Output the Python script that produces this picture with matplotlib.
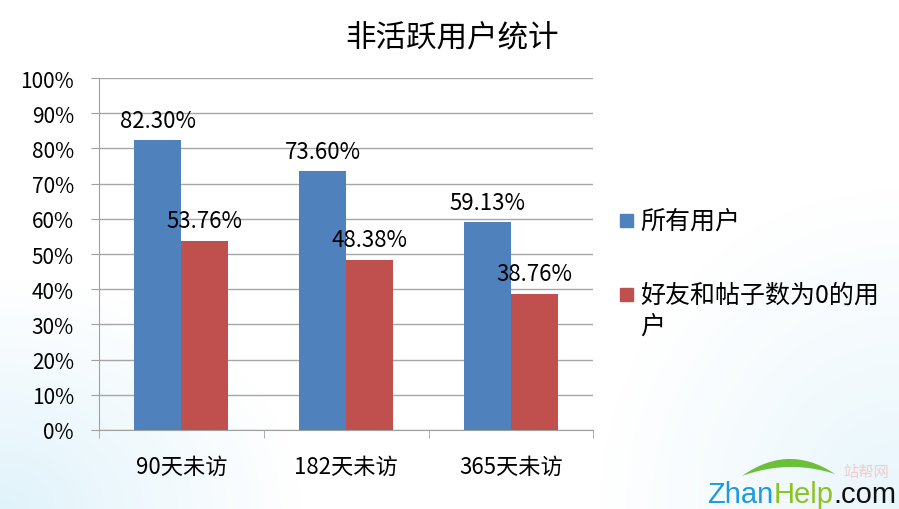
import numpy as np
import matplotlib.pyplot as plt
from matplotlib.ticker import PercentFormatter
from matplotlib.patches import Polygon

plt.rcParams['font.family'] = ['Noto Sans CJK SC', 'DejaVu Sans']

# data
categories = ['90天未访', '182天未访', '365天未访']
series_names = ['所有用户', '好友和帖子数为0的用户']
all_users = [82.30, 73.60, 59.13]
zero_users = [53.76, 48.38, 38.76]
yticks = [0, 10, 20, 30, 40, 50, 60, 70, 80, 90, 100]

blue = '#4F81BD'
red = '#C0504D'

fig = plt.figure(figsize=(8.99, 5.10), dpi=100)

# soft blue corner shading behind everything
bg = fig.add_axes([0, 0, 1, 1], zorder=-10)
h, w = 510, 899
yy, xx = np.mgrid[0:h, 0:w]
d_left = np.sqrt((xx / 300.0) ** 2 + ((h - yy) / 230.0) ** 2)
d_right = np.sqrt(((w - xx) / 300.0) ** 2 + ((h - yy) / 320.0) ** 2)
a = np.clip(1 - d_left, 0, 1) * 0.6 + np.clip(1 - d_right, 0, 1) * 0.45
a = np.clip(a, 0, 1)
img = np.ones((h, w, 3))
tint = np.array([0.80, 0.92, 0.97])
img = img * (1 - a[..., None]) + tint * a[..., None]
bg.imshow(img, aspect='auto', extent=[0, 1, 0, 1])
bg.set_xlim(0, 1)
bg.set_ylim(0, 1)
bg.axis('off')

ax = fig.add_axes([0.110, 0.155, 0.550, 0.690])
ax.patch.set_alpha(0)

x = np.arange(len(categories))
bw = 0.285
b1 = ax.bar(x - bw / 2, all_users, bw, color=blue, label=series_names[0], zorder=3)
b2 = ax.bar(x + bw / 2, zero_users, bw, color=red, label=series_names[1], zorder=3)

for bars, vals in ((b1, all_users), (b2, zero_users)):
    for rect, v in zip(bars, vals):
        ax.annotate(f'{v:.2f}%', (rect.get_x() + rect.get_width() / 2, v),
                    xytext=(0, 6), textcoords='offset points',
                    ha='center', va='bottom', fontsize=16, color='black', zorder=5)

ax.set_xlim(-0.5, len(categories) - 0.5)
ax.set_ylim(0, 100)
ax.set_yticks(yticks)
ax.yaxis.set_major_formatter(PercentFormatter(decimals=0))
ax.set_xticks(x)
ax.set_xticklabels(categories, fontsize=16)
ax.set_xticks(np.arange(len(categories) + 1) - 0.5, minor=True)
ax.tick_params(axis='x', which='major', length=0, pad=18)
ax.tick_params(axis='x', which='minor', length=6, color='#A0A0A0', direction='out')
ax.tick_params(axis='y', length=6, color='#A0A0A0', labelsize=15, pad=12)
ax.grid(axis='y', color='#A6A6A6', linewidth=1, zorder=0)
for s in ('top', 'right'):
    ax.spines[s].set_visible(False)
for s in ('left', 'bottom'):
    ax.spines[s].set_color('#A0A0A0')

fig.text(0.503, 0.925, '非活跃用户统计', ha='center', va='center', fontsize=22)

# legend drawn by hand to allow wrapped label
fig.patches.append(plt.Rectangle((0.690, 0.552), 0.0145, 0.026, color=blue,
                                 transform=fig.transFigure))
fig.text(0.712, 0.566, series_names[0], ha='left', va='center', fontsize=18)
fig.patches.append(plt.Rectangle((0.690, 0.407), 0.0145, 0.026, color=red,
                                 transform=fig.transFigure))
fig.text(0.712, 0.420, '好友和帖子数为0的用', ha='left', va='center', fontsize=18)
fig.text(0.712, 0.360, '户', ha='left', va='center', fontsize=18)

# watermark
fig.canvas.draw()
r = fig.canvas.get_renderer()
xpos = 707
for word, col in (('Zhan', '#1E9AE0'), ('Help', '#8DC21F'), ('.com', '#111111')):
    t = fig.text(xpos / w, 1 - 503 / h, word, color=col, fontsize=21, ha='left',
                 va='baseline', family='Liberation Sans')
    xpos = t.get_window_extent(r).x1
fig.text(843 / w, 1 - 473 / h, '站帮网', color='#F4CACA', fontsize=11, ha='left', va='center')
th = np.linspace(0, 1, 40)
top = [(742 + 93 * s, 477 - 64 * s * (1 - s) - 2 * s) for s in th]
bot = [(742 + 93 * s, 477 - 32 * s * (1 - s) - 2 * s) for s in th[::-1]]
pts = [(px / w, 1 - py / h) for px, py in top + bot]
bg.add_patch(Polygon(pts, closed=True, color='#6CBF3A', lw=0))

fig.savefig('out.png', dpi=100)
